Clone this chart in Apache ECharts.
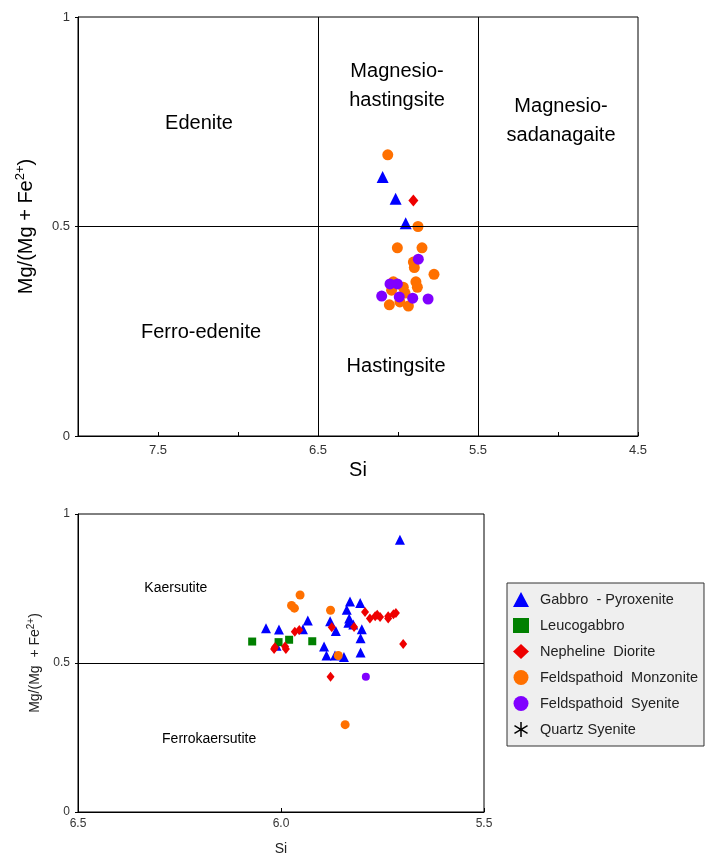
<!DOCTYPE html>
<html lang="en">
<head>
    <meta charset="UTF-8">
    <script src="https://cdn.jsdelivr.net/npm/echarts@6/dist/echarts.min.js"></script>
    <title>Amphibole classification</title>
    <style>
        html, body { margin: 0; padding: 0; background: #fff; }
    </style>
</head>
<body>
    <div id="main" style="width:705px;height:857px"></div>
    <script>
        // series names, shared by both plots
        var groups = ['Gabbro  - Pyroxenite', 'Leucogabbro', 'Nepheline  Diorite',
                      'Feldspathoid  Monzonite', 'Feldspathoid  Syenite', 'Quartz Syenite'];

        // upper plot: [Si, Mg/(Mg+Fe2+)]
        var topGabbro = [[6.096, 0.618], [6.015, 0.566], [5.952, 0.508]];
        var topLeuco = [];
        var topNepheline = [[5.904, 0.562]];
        var topMonzonite = [[6.064, 0.671], [5.875, 0.500], [6.004, 0.449], [5.850, 0.449],
            [5.904, 0.415], [5.898, 0.402], [5.775, 0.386], [6.029, 0.368], [5.888, 0.368],
            [5.879, 0.355], [5.967, 0.355], [6.040, 0.348], [5.956, 0.341], [6.054, 0.313],
            [5.935, 0.310], [5.988, 0.320]];
        var topSyenite = [[5.873, 0.422], [6.050, 0.363], [6.004, 0.363], [6.102, 0.334],
            [5.992, 0.332], [5.908, 0.329], [5.812, 0.327]];
        var topQuartz = [];

        // lower plot
        var botGabbro = [[5.707, 0.914], [6.037, 0.617], [6.005, 0.612], [5.946, 0.613],
            [5.934, 0.643], [5.879, 0.640], [5.830, 0.706], [5.805, 0.701], [5.838, 0.679],
            [5.832, 0.649], [5.834, 0.635], [5.822, 0.629], [5.865, 0.607], [5.801, 0.613],
            [5.804, 0.583], [6.011, 0.558], [5.894, 0.555], [5.888, 0.525], [5.867, 0.525],
            [5.845, 0.520], [5.804, 0.535]];
        var botLeuco = [[6.071, 0.572], [6.006, 0.570], [5.980, 0.578], [5.923, 0.573]];
        var botNepheline = [[5.875, 0.620], [5.966, 0.605], [5.955, 0.611], [6.017, 0.547],
            [6.015, 0.553], [5.988, 0.547], [5.990, 0.555], [5.793, 0.671], [5.781, 0.649],
            [5.768, 0.657], [5.756, 0.654], [5.763, 0.662], [5.736, 0.657], [5.736, 0.649],
            [5.717, 0.668], [5.723, 0.664], [5.820, 0.621], [5.699, 0.564], [5.878, 0.454]];
        var botMonzonite = [[5.953, 0.728], [5.974, 0.693], [5.967, 0.684], [5.878, 0.677],
            [5.859, 0.525], [5.842, 0.293]];
        var botSyenite = [[5.791, 0.454]];
        var botQuartz = [];

        // field boundaries
        var topSiBounds = [6.5, 5.5];
        var mgBound = 0.5;

        // field names: [Si, Mg#, text]
        var topFields = [[7.244, 0.745, 'Edenite'], [6.006, 0.835, 'Magnesio-\nhastingsite'],
            [4.981, 0.752, 'Magnesio-\nsadanagaite'], [7.231, 0.246, 'Ferro-edenite'],
            [6.012, 0.167, 'Hastingsite']];
        var botFields = [[6.259, 0.750, 'Kaersutite'], [6.177, 0.243, 'Ferrokaersutite']];

        var topTicks = ['7.5', '6.5', '5.5', '4.5'];

        var colors = ['#0000ff', '#008000', '#ee0000', '#ff7000', '#8000ff', '#000000'];
        var asterisk = 'path://M9,0h2v8.3l7.2,-4.2l1,1.7l-7.2,4.2l7.2,4.2l-1,1.7l-7.2,-4.2v8.3h-2v-8.3l-7.2,4.2l-1,-1.7l7.2,-4.2l-7.2,-4.2l1,-1.7l7.2,4.2z';
        var symbols = ['triangle', 'rect', 'diamond', 'circle', 'circle', asterisk];
        var topSizes = [12, 10, [10, 12], 11, 11, 11];
        var botSizes = [10, 8, [8, 10], 9, 8, 9];

        var font = 'Liberation Sans, Arial, sans-serif';

        function draw() {
            var echart = echarts.init(document.getElementById('main'));
            var topData = [topGabbro, topLeuco, topNepheline, topMonzonite, topSyenite, topQuartz];
            var botData = [botGabbro, botLeuco, botNepheline, botMonzonite, botSyenite, botQuartz];
            var series = [];
            for (var i = 0; i < groups.length; i++) {
                series.push({
                    name: groups[i], type: 'scatter', xAxisIndex: 0, yAxisIndex: 0,
                    symbol: symbols[i], symbolSize: topSizes[i], data: topData[i],
                    itemStyle: { color: colors[i], opacity: 1 }, z: 3
                });
                series.push({
                    name: groups[i], type: 'scatter', xAxisIndex: 1, yAxisIndex: 1,
                    symbol: symbols[i], symbolSize: botSizes[i], data: botData[i],
                    itemStyle: { color: colors[i], opacity: 1 }, z: 3
                });
            }
            var lineStyle = { color: '#000', width: 1, type: 'solid' };
            // boundary lines and field labels, top
            series.push({
                type: 'scatter', xAxisIndex: 0, yAxisIndex: 0, symbolSize: 0, z: 1,
                itemStyle: { opacity: 1 },
                data: topFields.map(function (f) { return { value: [f[0], f[1]], name: f[2] }; }),
                label: { show: true, position: 'inside', formatter: '{b}', color: '#000',
                         fontSize: 20, lineHeight: 29, fontFamily: font, align: 'center' },
                silent: true,
                markLine: {
                    silent: true, symbol: 'none', lineStyle: lineStyle, label: { show: false },
                    data: [{ xAxis: topSiBounds[0] }, { xAxis: topSiBounds[1] }, { yAxis: mgBound }]
                }
            });
            series.push({
                type: 'scatter', xAxisIndex: 1, yAxisIndex: 1, symbolSize: 0, z: 1,
                itemStyle: { opacity: 1 },
                data: botFields.map(function (f) { return { value: [f[0], f[1]], name: f[2] }; }),
                label: { show: true, position: 'inside', formatter: '{b}', color: '#000',
                         fontSize: 14, fontFamily: font },
                silent: true,
                markLine: {
                    silent: true, symbol: 'none', lineStyle: lineStyle, label: { show: false },
                    data: [{ yAxis: mgBound }]
                }
            });

            var yName = '{n|Mg/(Mg + Fe}{s|2+}{n|)}';
            var yNameBot = '{n|Mg/(Mg  + Fe}{s|2+}{n|)}';
            var option = {
                animation: false,
                textStyle: { fontFamily: font },
                grid: [
                    { left: 78, top: 17, width: 560, height: 419, show: true,
                      borderColor: '#000', borderWidth: 1, backgroundColor: '#fff' },
                    { left: 78, top: 514, width: 406, height: 304, show: true,
                      borderColor: '#000', borderWidth: 1, backgroundColor: '#fff' }
                ],
                xAxis: [
                    {
                        gridIndex: 0, type: 'value', inverse: true, min: 4.5, max: 8, interval: 0.5,
                        name: 'Si', nameLocation: 'middle', nameGap: 24,
                        nameTextStyle: { fontSize: 20, color: '#000' },
                        axisLine: { lineStyle: { color: '#000' } },
                        axisTick: { inside: true, length: 4, lineStyle: { color: '#000' } },
                        axisLabel: { fontSize: 13, color: '#333', margin: 8,
                            formatter: function (v) {
                                var s = v.toFixed(1);
                                return topTicks.indexOf(s) >= 0 ? s : '';
                            } },
                        splitLine: { show: false }
                    },
                    {
                        gridIndex: 1, type: 'value', inverse: true, min: 5.5, max: 6.5, interval: 0.5,
                        name: 'Si', nameLocation: 'middle', nameGap: 30,
                        nameTextStyle: { fontSize: 14, color: '#222' },
                        axisLine: { lineStyle: { color: '#000' } },
                        axisTick: { inside: true, length: 4, lineStyle: { color: '#000' } },
                        axisLabel: { fontSize: 12, color: '#333', margin: 6,
                            formatter: function (v) { return v.toFixed(1); } },
                        splitLine: { show: false }
                    }
                ],
                yAxis: [
                    {
                        gridIndex: 0, type: 'value', min: 0, max: 1, interval: 0.5,
                        name: yName, nameLocation: 'middle', nameGap: 40, nameRotate: 90,
                        nameTextStyle: { rich: {
                            n: { fontSize: 20, color: '#000', fontFamily: font, lineHeight: 24 },
                            s: { fontSize: 13, color: '#000', fontFamily: font, verticalAlign: 'top', lineHeight: 24 }
                        } },
                        axisLine: { lineStyle: { color: '#000' } },
                        axisTick: { show: true, length: 3, lineStyle: { color: '#000' } },
                        axisLabel: { fontSize: 13, color: '#333', margin: 8 },
                        splitLine: { show: false }
                    },
                    {
                        gridIndex: 1, type: 'value', min: 0, max: 1, interval: 0.5,
                        name: yNameBot, nameLocation: 'middle', nameGap: 25, nameRotate: 90,
                        nameTextStyle: { rich: {
                            n: { fontSize: 14, color: '#222', fontFamily: font, lineHeight: 18 },
                            s: { fontSize: 10, color: '#222', fontFamily: font, verticalAlign: 'top', lineHeight: 18 }
                        } },
                        axisLine: { lineStyle: { color: '#000' } },
                        axisTick: { show: true, length: 3, lineStyle: { color: '#000' } },
                        axisLabel: { fontSize: 12, color: '#333', margin: 8 },
                        splitLine: { show: false }
                    }
                ],
                legend: {
                    data: groups, orient: 'vertical', left: 507, top: 583,
                    backgroundColor: '#efefef', borderColor: '#333', borderWidth: 1,
                    padding: [9, 6, 9, 6], itemGap: 11, itemWidth: 16, itemHeight: 15,
                    textStyle: { fontSize: 14.5, color: '#222', fontFamily: font, padding: [0, 0, 0, 6] }
                },
                series: series
            };
            echart.setOption(option);
        }
        draw();
    </script>
</body>
</html>
